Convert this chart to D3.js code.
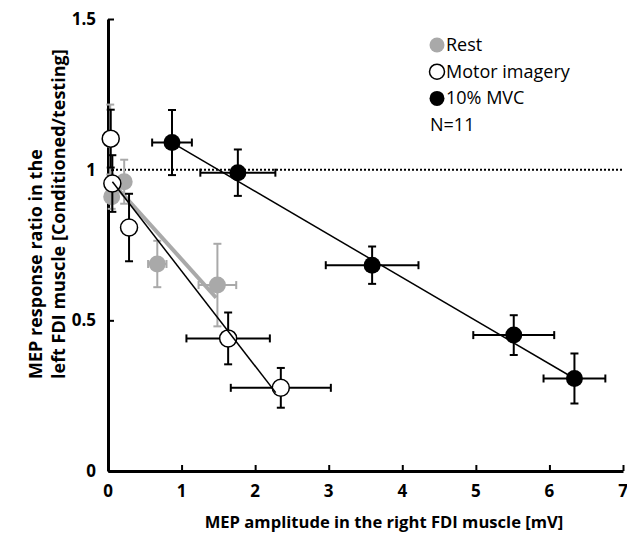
<!DOCTYPE html>
<html>
<head>
<meta charset="utf-8">
<script src="https://cdn.jsdelivr.net/npm/d3@7"></script>
<style>
  body { margin: 0; background: #fff; }
  svg text { font-family: "Open Sans", "Liberation Sans", sans-serif; }
</style>
</head>
<body>
<div id="chart"></div>
<script>
// Series values: x = MEP amplitude [mV], y = ratio
var restPoints = [
    { x: 0.03, y: 1.10, ex: 0.03, ey: 0.116 },
    { x: 0.05, y: 0.91, ex: 0.03, ey: 0.04 },
    { x: 0.22, y: 0.96, ex: 0.05, ey: 0.073 },
    { x: 0.67, y: 0.687, ex: 0.125, ey: 0.077 },
    { x: 1.487, y: 0.617, ex: 0.256, ey: 0.137 }
];
var imageryPoints = [
    { x: 0.037, y: 1.103, ex: 0.03, ey: 0.096 },
    { x: 0.059, y: 0.954, ex: 0.03, ey: 0.094 },
    { x: 0.286, y: 0.808, ex: 0.05, ey: 0.112 },
    { x: 1.633, y: 0.44, ex: 0.567, ey: 0.086 },
    { x: 2.349, y: 0.276, ex: 0.68, ey: 0.066 }
];
var mvcPoints = [
    { x: 0.87, y: 1.09, ex: 0.27, ey: 0.108 },
    { x: 1.765, y: 0.99, ex: 0.51, ey: 0.077 },
    { x: 3.59, y: 0.683, ex: 0.63, ey: 0.062 },
    { x: 5.515, y: 0.451, ex: 0.55, ey: 0.066 },
    { x: 6.34, y: 0.307, ex: 0.42, ey: 0.083 }
];

// Fitted lines as drawn in the picture (start and end)
var restLine = [{ x: 0.05, y: 0.96 }, { x: 1.47, y: 0.575 }];
var imageryLine = [{ x: 0.06, y: 0.96 }, { x: 2.28, y: 0.26 }];
var mvcLine = [{ x: 0.87, y: 1.09 }, { x: 6.34, y: 0.307 }];

var xTicks = [0, 1, 2, 3, 4, 5, 6, 7];
var yTicks = [0, 0.5, 1, 1.5];
var legendItems = ["Rest", "Motor imagery", "10% MVC"];

var width = 627, height = 533;
var gray = "#a9a9a9";

var svg = d3.select("#chart").append("svg")
    .attr("width", width)
    .attr("height", height);

var x = d3.scaleLinear().domain([0, 7]).range([108, 623]);
var y = d3.scaleLinear().domain([0, 1.5]).range([471, 19]);

// Reference line at ratio 1
svg.append("line")
    .attr("x1", x(0)).attr("x2", x(7))
    .attr("y1", y(1)).attr("y2", y(1))
    .attr("stroke", "#000")
    .attr("stroke-width", 2)
    .attr("stroke-dasharray", "2,2");

// Axes, ticks pointing inward
var xAxis = svg.append("g")
    .attr("transform", "translate(0," + y(0) + ")")
    .call(d3.axisTop(x).tickValues(xTicks).tickSize(6).tickSizeOuter(0).tickFormat(""));
var yAxis = svg.append("g")
    .attr("transform", "translate(" + x(0) + ",0)")
    .call(d3.axisRight(y).tickValues(yTicks).tickSize(6).tickSizeOuter(0).tickFormat(""));
[xAxis, yAxis].forEach(function (g) {
    g.select(".domain").attr("stroke-width", 3).attr("stroke", "#000");
    g.selectAll(".tick line").attr("stroke-width", 2).attr("stroke", "#000");
});

// Tick labels
svg.selectAll(".xlab")
    .data(xTicks)
    .enter().append("text")
    .attr("x", function (d) { return x(d); })
    .attr("y", 497)
    .attr("text-anchor", "middle")
    .attr("font-size", 17)
    .attr("font-weight", "bold")
    .text(function (d) { return d; });

svg.selectAll(".ylab")
    .data(yTicks)
    .enter().append("text")
    .attr("x", 96)
    .attr("y", function (d) { return y(d) + 6; })
    .attr("text-anchor", "end")
    .attr("font-size", 17)
    .attr("font-weight", "bold")
    .text(function (d) { return d; });

// Axis titles
svg.append("text")
    .attr("x", 384)
    .attr("y", 528)
    .attr("text-anchor", "middle")
    .attr("font-size", 16.6)
    .attr("font-weight", "bold")
    .text("MEP amplitude in the right FDI muscle [mV]");

var yTitle = svg.append("text")
    .attr("transform", "translate(0,379) rotate(-90)")
    .attr("font-size", 18)
    .attr("font-weight", "bold");
yTitle.append("tspan").attr("x", 0).attr("y", 42).text("MEP response ratio in the");
yTitle.append("tspan").attr("x", 0).attr("y", 65).text("left FDI muscle [Conditioned/testing]");

// Error bars for one series
function drawErrors(data, color) {
    var g = svg.append("g").attr("stroke", color).attr("stroke-width", 2).attr("fill", "none");
    var cap = 4;
    data.forEach(function (d) {
        var cx = x(d.x), cy = y(d.y);
        var x0 = x(d.x - d.ex), x1 = x(d.x + d.ex);
        var y0 = y(d.y - d.ey), y1 = y(d.y + d.ey);
        g.append("line").attr("x1", x0).attr("x2", x1).attr("y1", cy).attr("y2", cy);
        g.append("line").attr("x1", x0).attr("x2", x0).attr("y1", cy - cap).attr("y2", cy + cap);
        g.append("line").attr("x1", x1).attr("x2", x1).attr("y1", cy - cap).attr("y2", cy + cap);
        g.append("line").attr("x1", cx).attr("x2", cx).attr("y1", y0).attr("y2", y1);
        g.append("line").attr("x1", cx - cap).attr("x2", cx + cap).attr("y1", y0).attr("y2", y0);
        g.append("line").attr("x1", cx - cap).attr("x2", cx + cap).attr("y1", y1).attr("y2", y1);
    });
}

function drawPoints(data, fill, stroke) {
    svg.append("g").selectAll("circle")
        .data(data)
        .enter().append("circle")
        .attr("cx", function (d) { return x(d.x); })
        .attr("cy", function (d) { return y(d.y); })
        .attr("r", 8.5)
        .attr("fill", fill)
        .attr("stroke", stroke)
        .attr("stroke-width", stroke === "none" ? 0 : 1.5);
}

var valueline = d3.line()
    .x(function (d) { return x(d.x); })
    .y(function (d) { return y(d.y); });

drawErrors(restPoints, gray);
drawPoints(restPoints, gray, "none");
svg.append("path").datum(restLine)
    .attr("d", valueline).attr("stroke", gray).attr("stroke-width", 4).attr("fill", "none");

drawErrors(imageryPoints, "#000");
drawPoints(imageryPoints, "#fff", "#000");
svg.append("path").datum(imageryLine)
    .attr("d", valueline).attr("stroke", "#000").attr("stroke-width", 1.5).attr("fill", "none");

drawErrors(mvcPoints, "#000");
drawPoints(mvcPoints, "#000", "none");
svg.append("path").datum(mvcLine)
    .attr("d", valueline).attr("stroke", "#000").attr("stroke-width", 1.5).attr("fill", "none");

// Legend
var legendStyles = [
    { fill: gray, stroke: "none" },
    { fill: "#fff", stroke: "#000" },
    { fill: "#000", stroke: "none" }
];
var legend = svg.append("g");
legendItems.forEach(function (name, i) {
    var ly = 45 + i * 26.7;
    legend.append("circle")
        .attr("cx", 437).attr("cy", ly).attr("r", 7.5)
        .attr("fill", legendStyles[i].fill)
        .attr("stroke", legendStyles[i].stroke)
        .attr("stroke-width", legendStyles[i].stroke === "none" ? 0 : 1.5);
    legend.append("text")
        .attr("x", 446).attr("y", ly + 6)
        .attr("font-size", 18)
        .text(name);
});
legend.append("text")
    .attr("x", 430).attr("y", 131)
    .attr("font-size", 18)
    .text("N=11");
</script>
</body>
</html>
